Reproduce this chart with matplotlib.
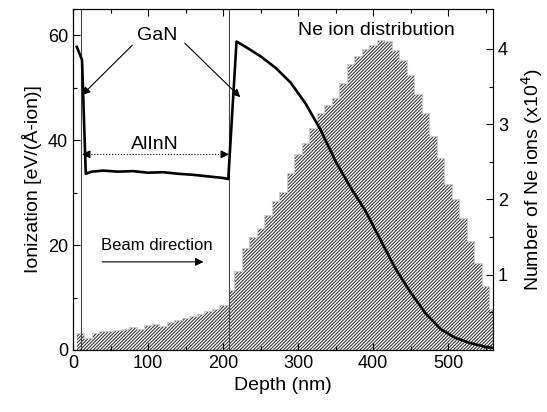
import numpy as np
import matplotlib.pyplot as plt

plt.rcParams['font.family'] = ['Liberation Sans', 'DejaVu Sans']
plt.rcParams['hatch.linewidth'] = 0.8

# ionization energy loss curve (left axis)
ion_depth = [5, 12, 17, 25, 40, 60, 80, 100, 120, 140, 160, 180, 200, 207,
             218, 230, 250, 270, 290, 310, 330, 350, 370, 390, 410, 430,
             450, 470, 490, 510, 530, 550, 560]
ion_value = [57.8, 55.3, 33.6, 34.0, 34.2, 34.0, 34.1, 33.8, 33.9, 33.6, 33.4,
             33.1, 32.8, 32.6, 58.8, 57.8, 56.0, 53.8, 51.0, 47.0, 42.0, 36.0,
             31.0, 26.5, 21.0, 15.5, 11.0, 7.0, 4.0, 2.3, 1.3, 0.6, 0.4]

# Ne ion histogram (right axis, x10^4), bin left edges
ne_bins = [5, 15, 25, 35, 45, 55, 65, 75, 85, 95, 105, 115, 125, 135, 145,
           155, 165, 175, 185, 195, 208, 215, 225, 235, 245, 255, 265, 275,
           285, 295, 305, 315, 325, 335, 345, 355, 365, 375, 385, 395, 405,
           415, 425, 435, 445, 455, 465, 475, 485, 495, 505, 515, 525, 535,
           545, 555]
ne_count = [0.22, 0.16, 0.22, 0.25, 0.25, 0.27, 0.28, 0.30, 0.28, 0.33, 0.34,
            0.32, 0.37, 0.40, 0.42, 0.45, 0.48, 0.52, 0.55, 0.60, 0.80, 1.05,
            1.35, 1.50, 1.62, 1.80, 1.98, 2.10, 2.35, 2.60, 2.75, 2.95, 3.15,
            3.25, 3.35, 3.55, 3.80, 3.90, 4.00, 4.05, 4.12, 4.10, 3.98, 3.85,
            3.65, 3.40, 3.15, 2.85, 2.55, 2.20, 2.00, 1.75, 1.45, 1.15, 0.85,
            0.55]

fig = plt.figure(figsize=(5.47, 4.12), dpi=100)
ax1 = fig.add_axes([0.1335, 0.1505, 0.7678, 0.8275])
ax2 = ax1.twinx()

edges = ne_bins + [560]
counts = ne_count + [ne_count[-1]]
ax2.fill_between(edges, 0, counts, step='post', facecolor='white',
                 edgecolor='#3a3a3a', hatch='//////////', linewidth=0)
ax2.step(edges, counts, where='post', color='#cccccc', lw=0.8)
ax2.set_ylim(0, 4.53)
ax2.set_yticks([1, 2, 3, 4])
ax2.set_yticks([0.5, 1.5, 2.5, 3.5], minor=True)
ax2.set_ylabel('Number of Ne ions (x10$^4$)', fontsize=14, labelpad=8)

ax1.set_zorder(ax2.get_zorder() + 1)
ax1.patch.set_visible(False)

ax1.axvline(10.5, color='#444444', lw=0.8)
ax1.axvline(208.5, color='#444444', lw=0.8)
ax1.plot(ion_depth, ion_value, color='black', lw=1.9)

ax1.set_xlim(0, 560)
ax1.set_ylim(0, 65)
ax1.set_xticks([0, 100, 200, 300, 400, 500])
ax1.set_xticks(np.arange(50, 560, 100), minor=True)
ax1.set_yticks([0, 20, 40, 60])
ax1.set_yticks([10, 30, 50], minor=True)
ax1.set_xlabel('Depth (nm)', fontsize=14)
ax1.set_ylabel('Ionization [eV/(Å-ion)]', fontsize=14)

for ax in (ax1, ax2):
    ax.tick_params(which='both', direction='in', labelsize=13, width=0.8)
    ax.tick_params(which='major', length=5)
    ax.tick_params(which='minor', length=3)
ax1.tick_params(axis='x', which='both', top=True)

# annotations
arr = dict(arrowstyle='-|>', color='black', lw=0.8, mutation_scale=12,
           shrinkA=0, shrinkB=0)
ax1.text(112, 60, 'GaN', fontsize=14, ha='center', va='center')
ax1.annotate('', xy=(12, 48.6), xytext=(79, 58.1), arrowprops=arr)
ax1.annotate('', xy=(223, 48.2), xytext=(149, 58.5), arrowprops=arr)

ax1.text(109, 39.2, 'AlInN', fontsize=14, ha='center', va='center')
ax1.plot([16, 205], [37.3, 37.3], color='black', lw=0.8, ls=':')
ax1.annotate('', xy=(12, 37.3), xytext=(22, 37.3), arrowprops=arr)
ax1.annotate('', xy=(208, 37.3), xytext=(198, 37.3), arrowprops=arr)

ax1.text(112, 20, 'Beam direction', fontsize=12, ha='center', va='center')
ax1.annotate('', xy=(174, 16.8), xytext=(39, 16.8), arrowprops=arr)

ax1.text(404, 61, 'Ne ion distribution', fontsize=14, ha='center',
         va='center')

fig.savefig('out.png', dpi=100)
